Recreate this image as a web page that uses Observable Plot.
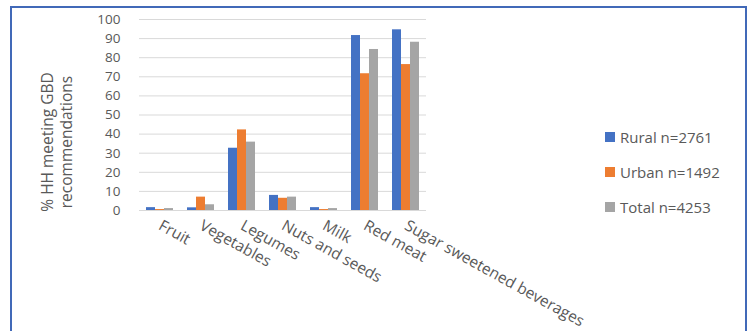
<!DOCTYPE html>
<html>
<head>
<meta charset="utf-8">
<script src="https://cdn.jsdelivr.net/npm/d3@7"></script>
<script src="https://cdn.jsdelivr.net/npm/@observablehq/plot@0.6"></script>
<style>
  html, body { margin: 0; padding: 0; background: #fff; }
  #wrap { position: relative; width: 751px; height: 331px; overflow: hidden; font-family: "Open Sans", Lato, sans-serif; color: #595959; }
  #wrap svg { position: absolute; left: 0; top: 0; }
  #frame { position: absolute; left: 10px; top: 6px; width: 737px; height: 360px; box-sizing: border-box; border: 2px solid #4169b8; pointer-events: none; }
  #ytitle { position: absolute; left: 57px; top: 142px; transform: translate(-50%, -50%) rotate(-90deg); text-align: center; font-size: 15.5px; line-height: 19px; white-space: nowrap; }
  #legend { position: absolute; left: 605px; top: 119.5px; font-size: 15px; }
  #legend .row { display: flex; align-items: center; height: 35px; }
  #legend .sw { width: 10px; height: 10px; margin-right: 5px; }
</style>
</head>
<body>
<div id="wrap">
  <div id="ytitle">% HH meeting GBD<br>recommendations</div>
  <div id="legend"></div>
  <div id="frame"></div>
</div>
<script>
const categories = ["Fruit", "Vegetables", "Legumes", "Nuts and seeds", "Milk", "Red meat", "Sugar sweetened beverages"];
const series = ["Rural n=2761", "Urban n=1492", "Total n=4253"];
const rural = [1.5, 1.4, 32.6, 7.9, 1.5, 91.6, 94.6];
const urban = [0.5, 7.0, 42.2, 6.4, 0.5, 71.6, 76.4];
const total = [1.0, 3.0, 35.8, 7.0, 1.0, 84.3, 88.1];
const colors = ["#4472C4", "#ED7D31", "#A5A5A5"];
const yTicks = [0, 10, 20, 30, 40, 50, 60, 70, 80, 90, 100];

const valuesBySeries = [rural, urban, total];
const data = [];
categories.forEach((c, i) => {
  series.forEach((s, j) => data.push({cat: c, series: s, value: valuesBySeries[j][i]}));
});

const chart = Plot.plot({
  width: 751,
  height: 331,
  marginLeft: 137,
  marginRight: 324,
  marginTop: 19,
  marginBottom: 121,
  style: {fontFamily: "'Open Sans', Lato, sans-serif", fontSize: "14px", color: "#595959", background: "transparent"},
  fx: {domain: categories, padding: 0},
  x: {domain: series, paddingInner: 0, paddingOuter: 0.57, axis: null},
  y: {domain: [0, 100]},
  color: {domain: series, range: colors},
  marks: [
    Plot.gridY(yTicks, {stroke: "#d9d9d9", strokeOpacity: 1}),
    Plot.barY(data, {fx: "cat", x: "series", y: "value", fill: "series"}),
    Plot.axisY({ticks: yTicks, tickSize: 0, tickPadding: 19, label: null, fontSize: 13.5}),
    Plot.axisFx({anchor: "bottom", tickSize: 0, tickPadding: 14, tickRotate: 29, label: null, fontSize: 15.5})
  ]
});
document.getElementById("wrap").prepend(chart);

const legend = document.getElementById("legend");
series.forEach((s, j) => {
  const row = document.createElement("div");
  row.className = "row";
  const sw = document.createElement("div");
  sw.className = "sw";
  sw.style.background = colors[j];
  const t = document.createElement("span");
  t.textContent = s;
  row.appendChild(sw);
  row.appendChild(t);
  legend.appendChild(row);
});
</script>
</body>
</html>
